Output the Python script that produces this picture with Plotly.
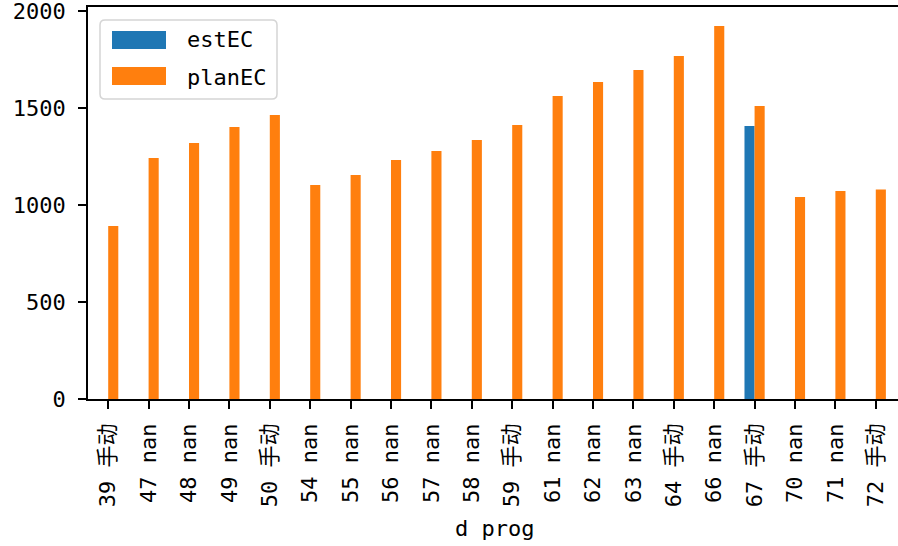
import plotly.graph_objects as go

categories = ["39 手动", "47 nan", "48 nan", "49 nan", "50 手动", "54 nan", "55 nan",
              "56 nan", "57 nan", "58 nan", "59 手动", "61 nan", "62 nan", "63 nan",
              "64 手动", "66 nan", "67 手动", "70 nan", "71 nan", "72 手动"]
estEC = [None, None, None, None, None, None, None, None, None, None,
         None, None, None, None, None, None, 1407, None, None, None]
planEC = [892, 1242, 1320, 1402, 1464, 1103, 1155, 1232, 1278, 1335,
          1412, 1562, 1634, 1696, 1768, 1923, 1510, 1041, 1072, 1080]
ytick_vals = [0, 500, 1000, 1500, 2000]

BLUE = "#1f77b4"
ORANGE = "#ff7f0e"
FONT = "DejaVu Sans Mono, Noto Sans CJK SC"

W, H = 898, 546
L, T, B = 88, 7, 147
PW = W - L
PH = H - T - B

fig = go.Figure()
fig.add_trace(go.Bar(x=categories, y=estEC, name="estEC", marker_color=BLUE,
                     marker_line_width=0))
fig.add_trace(go.Bar(x=categories, y=planEC, name="planEC", marker_color=ORANGE,
                     marker_line_width=0))


def px2x(px):
    return (px - L) / PW


def py2y(py):
    return (H - B - py) / PH


shapes = []
# legend box with rounded corners
x0, x1, y0, y1 = px2x(100), px2x(277), py2y(99), py2y(20)
rx, ry = 5 / PW, 5 / PH
path = (f"M {x0+rx},{y0} L {x1-rx},{y0} Q {x1},{y0} {x1},{y0+ry} "
        f"L {x1},{y1-ry} Q {x1},{y1} {x1-rx},{y1} L {x0+rx},{y1} "
        f"Q {x0},{y1} {x0},{y1-ry} L {x0},{y0+ry} Q {x0},{y0} {x0+rx},{y0} Z")
shapes.append(dict(type="path", path=path, xref="paper", yref="paper",
                   line=dict(color="#d5d5d5", width=1.5),
                   fillcolor="rgba(255,255,255,0.8)"))
shapes.append(dict(type="rect", xref="paper", yref="paper",
                   x0=px2x(112), x1=px2x(166), y0=py2y(49), y1=py2y(31),
                   fillcolor=BLUE, line_width=0))
shapes.append(dict(type="rect", xref="paper", yref="paper",
                   x0=px2x(112), x1=px2x(166), y0=py2y(85), y1=py2y(67),
                   fillcolor=ORANGE, line_width=0))

annotations = [
    dict(text="estEC", x=px2x(185), y=py2y(40), xref="paper", yref="paper",
         xanchor="left", yanchor="middle", showarrow=False,
         font=dict(family=FONT, size=22, color="black")),
    dict(text="planEC", x=px2x(185), y=py2y(77), xref="paper", yref="paper",
         xanchor="left", yanchor="middle", showarrow=False,
         font=dict(family=FONT, size=22, color="black")),
    dict(text="d prog", x=px2x(494), y=py2y(528), xref="paper", yref="paper",
         xanchor="center", yanchor="middle", showarrow=False,
         font=dict(family=FONT, size=22, color="black")),
]

fig.update_layout(
    width=W, height=H,
    margin=dict(l=L, r=0, t=T, b=B, pad=0, autoexpand=False),
    paper_bgcolor="white", plot_bgcolor="white",
    barmode="group", bargap=0.5, bargroupgap=0,
    showlegend=False,
    shapes=shapes, annotations=annotations,
    font=dict(family=FONT, size=22, color="black"),
)
fig.update_xaxes(
    type="category", range=[-0.5, 19.55], automargin=False,
    showline=True, linecolor="black", linewidth=1.6, mirror=True,
    ticks="outside", ticklen=8, tickwidth=1.6, tickcolor="black",
    tickangle=-90, showgrid=False, zeroline=False,
    tickfont=dict(family=FONT, size=22, color="black"),
    ticklabelstandoff=6,
)
fig.update_yaxes(
    range=[0, 2021], automargin=False,
    tickvals=ytick_vals, ticklabeloverflow="allow",
    showline=True, linecolor="black", linewidth=1.6, mirror=False,
    ticks="outside", ticklen=8, tickwidth=1.6, tickcolor="black",
    showgrid=False, zeroline=False,
    tickfont=dict(family=FONT, size=22, color="black"),
    ticklabelstandoff=8,
)

fig.write_html(
    "out.html",
    config={"displayModeBar": False},
    post_script="document.body.style.margin='0';document.body.style.overflow='hidden';",
)
